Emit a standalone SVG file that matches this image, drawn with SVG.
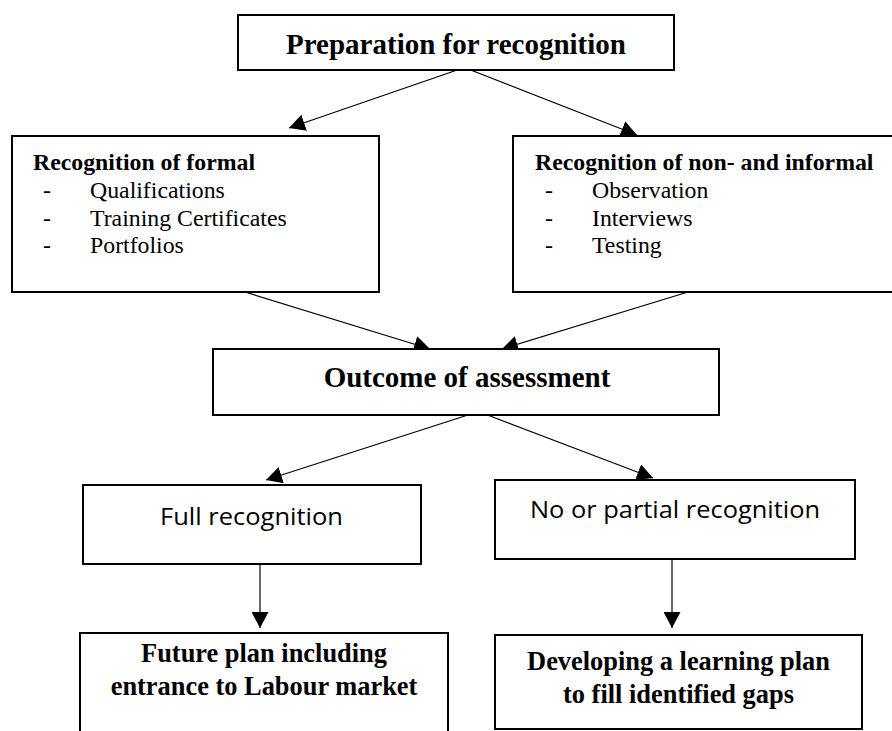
<svg xmlns="http://www.w3.org/2000/svg" width="892" height="731" viewBox="0 0 892 731">
<style>
.box{fill:#fff;stroke:#000;stroke-width:2}
.bt{font-family:"Liberation Serif","Times New Roman",serif;font-weight:bold;fill:#000}
.rt{font-family:"Liberation Serif","Times New Roman",serif;fill:#000;font-size:23.8px}
.st{font-family:"Open Sans","Noto Sans",sans-serif;fill:#000;font-size:24.5px}
.con{stroke:#000;stroke-width:1.2;fill:none;marker-end:url(#ah)}
</style>
<defs>
<marker id="ah" markerUnits="userSpaceOnUse" markerWidth="17" markerHeight="17" refX="16" refY="8.5" orient="auto">
<path d="M0,0 L16,8.5 L0,17 z" fill="#000"/>
</marker>
</defs>
<rect width="892" height="731" fill="#fff"/>
<g id="connectors">
<line class="con" x1="463" y1="68" x2="289" y2="128"/>
<line class="con" x1="463" y1="67" x2="637" y2="135"/>
<line class="con" x1="245" y1="292" x2="430" y2="349"/>
<line class="con" x1="688" y1="292" x2="502" y2="349"/>
<line class="con" x1="468" y1="415" x2="266" y2="480"/>
<line class="con" x1="477" y1="411" x2="653" y2="478"/>
<line class="con" x1="260" y1="565" x2="260" y2="628"/>
<line class="con" x1="672" y1="559" x2="672" y2="628"/>
</g>
<g id="prep">
<rect class="box" x="238" y="15" width="436" height="55"/>
<text class="bt" x="456" y="54" font-size="29" text-anchor="middle">Preparation for recognition</text>
</g>
<g id="formal">
<rect class="box" x="12" y="136" width="367" height="156"/>
<text class="bt" x="33" y="170" font-size="23.8">Recognition of formal</text>
<text class="rt" x="43" y="198">-</text><text class="rt" x="90" y="198">Qualifications</text>
<text class="rt" x="43" y="226">-</text><text class="rt" x="90" y="226">Training Certificates</text>
<text class="rt" x="43" y="253">-</text><text class="rt" x="90" y="253">Portfolios</text>
</g>
<g id="informal">
<rect class="box" x="513" y="136" width="400" height="156"/>
<text class="bt" x="535" y="170" font-size="23.8">Recognition of non- and informal</text>
<text class="rt" x="545" y="198">-</text><text class="rt" x="592" y="198">Observation</text>
<text class="rt" x="545" y="226">-</text><text class="rt" x="592" y="226">Interviews</text>
<text class="rt" x="545" y="253">-</text><text class="rt" x="592" y="253">Testing</text>
</g>
<g id="outcome">
<rect class="box" x="213" y="349" width="506" height="66"/>
<text class="bt" x="467" y="387" font-size="29" text-anchor="middle">Outcome of assessment</text>
</g>
<g id="full">
<rect class="box" x="83" y="485" width="338" height="79"/>
<text class="st" x="160" y="525" textLength="183" lengthAdjust="spacingAndGlyphs">Full recognition</text>
</g>
<g id="partial">
<rect class="box" x="495" y="480" width="360" height="79"/>
<text class="st" x="530" y="518" textLength="290" lengthAdjust="spacingAndGlyphs">No or partial recognition</text>
</g>
<g id="future">
<rect class="box" x="80" y="633" width="368" height="110"/>
<text class="bt" x="264" y="662" font-size="26.4" text-anchor="middle">Future plan including</text>
<text class="bt" x="264" y="695" font-size="26.4" text-anchor="middle">entrance to Labour market</text>
</g>
<g id="learning">
<rect class="box" x="495" y="635" width="367" height="94"/>
<text class="bt" x="678.5" y="670" font-size="26.4" text-anchor="middle">Developing a learning plan</text>
<text class="bt" x="678.5" y="703" font-size="26.4" text-anchor="middle">to fill identified gaps</text>
</g>
</svg>
